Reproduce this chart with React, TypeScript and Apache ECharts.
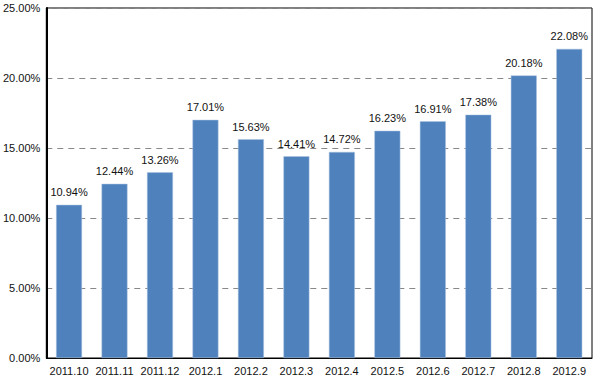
import React, { useEffect, useRef } from "react";
import * as echarts from "echarts";

const categories = ["2011.10", "2011.11", "2011.12", "2012.1", "2012.2", "2012.3", "2012.4", "2012.5", "2012.6", "2012.7", "2012.8", "2012.9"];
const values = [10.94, 12.44, 13.26, 17.01, 15.63, 14.41, 14.72, 16.23, 16.91, 17.38, 20.18, 22.08];

export default function App() {
  const ref = useRef<HTMLDivElement>(null);
  useEffect(() => {
    const chart = echarts.init(ref.current!, null, { renderer: "svg" });
    const font = "'Liberation Sans', Arial, sans-serif";
    chart.setOption({
      animation: false,
      textStyle: { fontFamily: font },
      grid: { left: 46, right: 8, top: 8, bottom: 22, show: true, borderColor: "#000", borderWidth: 1, containLabel: false },
      xAxis: {
        type: "category",
        data: categories,
        axisLine: { lineStyle: { color: "#000", width: 1 } },
        axisTick: { show: false },
        axisLabel: { color: "#111", fontSize: 11, margin: 7, interval: 0, fontFamily: font },
      },
      yAxis: {
        type: "value",
        min: 0,
        max: 25,
        interval: 5,
        axisLine: { show: true, lineStyle: { color: "#000", width: 2 } },
        axisTick: { show: false },
        axisLabel: { color: "#111", fontSize: 11, margin: 6, fontFamily: font, formatter: (v: number) => v.toFixed(2) + "%" },
        splitLine: { lineStyle: { color: "#888", type: [6, 5], width: 1 } },
      },
      series: [
        {
          type: "bar",
          data: values,
          barWidth: "57%",
          itemStyle: { color: "#4F81BD", borderColor: "#A9C2E0", borderWidth: 0.5 },
          label: {
            show: true,
            position: "top",
            distance: 7,
            color: "#111",
            fontSize: 11,
            fontFamily: font,
            formatter: (p: any) => p.value.toFixed(2) + "%",
          },
        },
      ],
    });
    return () => chart.dispose();
  }, []);
  return <div ref={ref} style={{ width: 600, height: 380, position: "absolute", left: 0, top: 0 }} />;
}
